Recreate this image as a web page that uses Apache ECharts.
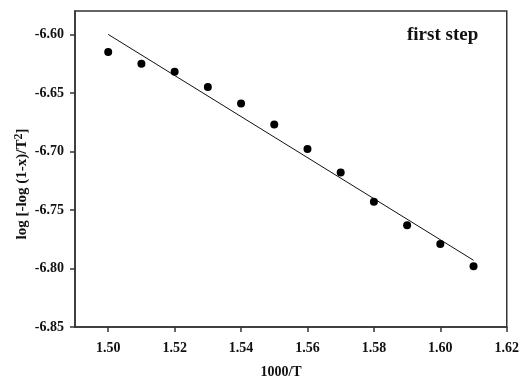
<!DOCTYPE html>
<html><head><meta charset="utf-8">
<script src="https://cdn.jsdelivr.net/npm/echarts@6/dist/echarts.min.js"></script>
<style>html,body{margin:0;padding:0;background:#fff}#c{width:522px;height:381px}</style>
</head><body><div id="c"></div>
<script>
const xValues = [1.50,1.51,1.52,1.53,1.54,1.55,1.56,1.57,1.58,1.59,1.60,1.61];
const yValues = [-6.615,-6.625,-6.632,-6.645,-6.659,-6.677,-6.698,-6.718,-6.743,-6.763,-6.779,-6.798];
const fitX = [1.50, 1.61];
const fitY = [-6.600, -6.793];
const xTicks = [1.50,1.52,1.54,1.56,1.58,1.60,1.62];
const yTicks = [-6.85,-6.80,-6.75,-6.70,-6.65,-6.60];

const font = 'Liberation Serif';
const chart = echarts.init(document.getElementById('c'));
chart.setOption({
  animation:false,
  backgroundColor:'#fff',
  grid:{left:75,top:11,right:15,bottom:54,show:true,borderColor:'#333',borderWidth:1.5,backgroundColor:'transparent'},
  xAxis:{type:'value',min:1.49,max:1.62,
    axisLine:{lineStyle:{color:'#333',width:1.5}},
    axisTick:{show:true,length:5,customValues:xTicks,lineStyle:{color:'#333',width:1.5}},
    axisLabel:{customValues:xTicks,margin:14,fontFamily:font,fontWeight:'bold',fontSize:14,color:'#111',formatter:v=>v.toFixed(2)},
    splitLine:{show:false}},
  yAxis:{type:'value',min:-6.85,max:-6.58,
    axisLine:{show:true,lineStyle:{color:'#333',width:1.5}},
    axisTick:{show:true,length:5,customValues:yTicks,lineStyle:{color:'#333',width:1.5}},
    axisLabel:{customValues:yTicks,margin:11,fontFamily:font,fontWeight:'bold',fontSize:14,color:'#111',formatter:v=>v.toFixed(2)},
    splitLine:{show:false}},
  graphic:[
    {type:'text',left:407,top:26,style:{text:'first step',font:'bold 19px "Liberation Serif"',fill:'#111'}},
    {type:'text',x:281,y:372,style:{text:'1000/T',font:'bold 14px "Liberation Serif"',fill:'#111',align:'center',verticalAlign:'middle'}},
    {type:'text',x:22,y:184,rotation:Math.PI/2,style:{
      text:'{a|log [-log (1-x)/T}{s|2}{a|]}',align:'center',verticalAlign:'middle',
      rich:{a:{font:'bold 15px "Liberation Serif"',fill:'#111'},s:{font:'bold 12px "Liberation Serif"',fill:'#111',verticalAlign:'top',padding:[0,0,7,0]}}}}
  ],
  series:[
    {type:'line',data:fitX.map((x,i)=>[x,fitY[i]]),symbol:'none',lineStyle:{color:'#111',width:1},z:2},
    {type:'scatter',data:xValues.map((x,i)=>[x,yValues[i]]),symbol:'circle',symbolSize:8,itemStyle:{color:'#000',opacity:1},z:3}
  ]
});
</script></body></html>
